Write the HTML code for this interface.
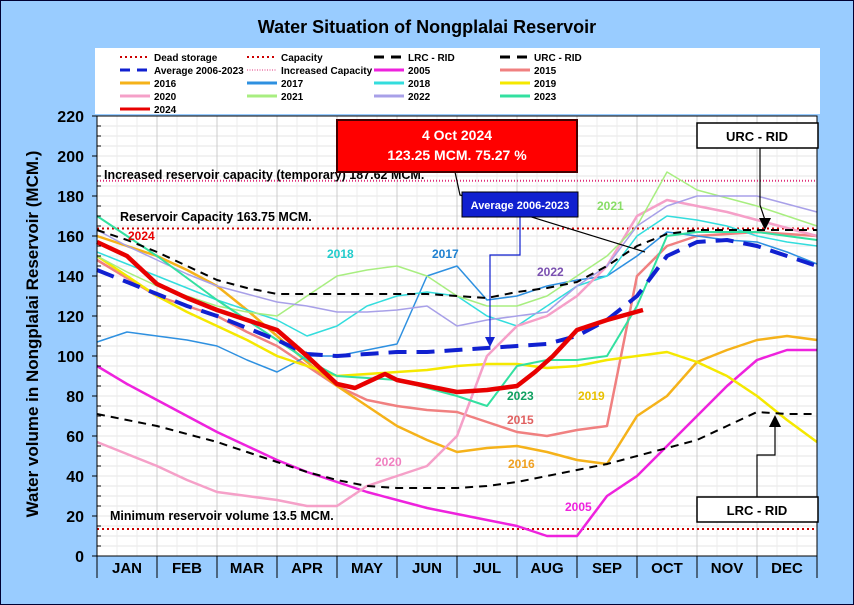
<!DOCTYPE html>
<html><head><meta charset="utf-8">
<style>
body{margin:0;background:#fff;}
svg{display:block;font-family:"Liberation Sans",sans-serif;}
</style></head><body>
<svg id="c" width="854" height="605" viewBox="0 0 854 605" xmlns="http://www.w3.org/2000/svg">
<rect x="0.5" y="0.5" width="853" height="604" fill="#99ccff" stroke="#000033"/>
<text x="427" y="33" text-anchor="middle" font-size="18" font-weight="bold">Water Situation of Nongplalai Reservoir</text>
<rect x="95" y="48" width="725" height="66" fill="#fff"/>
<rect x="97" y="116" width="720" height="440" fill="#fff"/>
<g id="grid"></g><g id="series"></g><g id="axes"></g><g id="legend"></g><g id="annot"></g>
</svg>
<script>
const NS="http://www.w3.org/2000/svg";
const months=["JAN","FEB","MAR","APR","MAY","JUN","JUL","AUG","SEP","OCT","NOV","DEC"];
const yTicks=[0,20,40,60,80,100,120,140,160,180,200,220];
// x = month position (0 = Jan 1, 12 = Dec 31), y = MCM
const t=[0,0.5,1,1.5,2,2.5,3,3.5,4,4.5,5,5.5,6,6.5,7,7.5,8,8.5,9,9.5,10,10.5,11,11.5,12];
const t2024=[0,0.5,1,1.5,2,2.5,3,3.5,4,4.3,4.8,5,5.5,6,6.5,7,7.3,7.6,8,8.5,9.1];
const v2024=[157,150,136,129,123,118,113,100,86,84,91,88,85,82,83,85,92,100,113,118,123];
const vAvg=[143,137,131,125,120,114,108,101,100,101,102,102,103,104,105,106,110,118,130,150,157,158,155,150,145];
const vLRC=[71,68,65,61,57,52,47,42,38,35,34,34,34,35,37,40,43,46,50,54,58,65,72,71,71];
const vURC=[163,158,152,145,138,134,131,131,131,131,131,131,130,129,132,134,137,145,155,161,163,163,163,163,163];
const v2005=[95,86,78,70,62,55,48,42,37,32,28,24,21,18,15,10,10,30,40,55,70,85,98,103,103];
const v2015=[148,139,130,125,120,112,105,95,85,78,75,73,72,67,62,60,63,65,140,155,160,161,162,161,160];
const v2016=[160,155,150,143,135,123,110,97,85,75,65,58,52,54,55,52,48,46,70,80,97,103,108,110,108];
const v2017=[107,112,110,108,105,98,92,100,100,103,106,140,145,128,130,135,138,140,150,162,160,158,157,152,146];
const v2018=[152,146,140,134,128,123,118,110,115,125,130,132,130,120,115,125,135,140,160,170,168,165,160,157,155];
const v2019=[150,140,130,122,115,108,100,95,90,91,92,93,95,96,96,94,95,98,100,102,97,90,80,68,57];
const v2020=[57,51,45,38,32,30,28,25,25,35,40,45,60,100,115,120,130,145,170,178,175,172,168,164,160];
const v2021=[150,142,135,130,125,122,120,130,140,143,145,140,130,125,125,130,140,150,165,192,183,179,175,170,165];
const v2022=[163,155,148,141,135,131,127,125,122,122,123,125,115,118,120,122,135,145,165,175,180,180,180,176,172];
const v2023=[170,160,150,139,128,118,108,98,90,89,88,84,80,75,95,98,98,100,125,160,162,162,162,160,158];
const x=m=>97+m*60;
const y=v=>556-v*2;
function el(tag,attrs,parent,name,inter){const e=document.createElementNS(NS,tag);for(const k in attrs)e.setAttribute(k,attrs[k]);


parent.appendChild(e);return e;}
const G=document.getElementById('grid'),S=document.getElementById('series'),A=document.getElementById('axes'),L=document.getElementById('legend'),N=document.getElementById('annot');
for(let v=5;v<220;v+=5)el('line',{x1:97,x2:817,y1:y(v),y2:y(v),stroke:'#e6e6e6','stroke-width':1},G,'grid-line-h');
for(let m=0;m<12;m+=1/3)el('line',{x1:x(m),x2:x(m),y1:116,y2:556,stroke:(Math.abs(m-Math.round(m))<0.01)?'#cccccc':'#ececec'},G,'grid-line-v');
function line(tt,vv,color,w,dash,name){const d=tt.map((m,i)=>(i?'L':'M')+x(m).toFixed(1)+','+y(vv[i]).toFixed(1)).join('');
const a={d:d,fill:'none',stroke:color,'stroke-width':w,'stroke-linejoin':'round'};if(dash)a['stroke-dasharray']=dash;el('path',a,S,name);}
function hl(v,color,name,dash){el('line',{x1:97,x2:817,y1:y(v),y2:y(v),stroke:color,'stroke-width':2,'stroke-dasharray':dash||'2,3'},S,name);}
hl(13.5,'#cc0000','dead-storage-line');hl(163.75,'#cc0000','capacity-line');hl(187.62,'#e0307a','increased-capacity-line','1,2');
line(t,v2005,'#ee22dd',2.5,null,'series-2005');
line(t,v2015,'#f08080',2.5,null,'series-2015');
line(t,v2016,'#f5b21a',2.5,null,'series-2016');
line(t,v2017,'#2e90e0',1.5,null,'series-2017');
line(t,v2018,'#33dddd',1.5,null,'series-2018');
line(t,v2019,'#f5e800',2.5,null,'series-2019');
line(t,v2020,'#f5a0c8',2.5,null,'series-2020');
line(t,v2021,'#a8ee80',1.5,null,'series-2021');
line(t,v2022,'#a8a0e8',1.5,null,'series-2022');
line(t,v2023,'#33e0a0',2,null,'series-2023');
line(t,vLRC,'#000',2,'8,6','series-lrc-rid');
line(t,vURC,'#000',2,'8,6','series-urc-rid');
line(t,vAvg,'#1020d0',4,'18,10','series-average');
line(t2024,v2024,'#e80000',4.5,null,'series-2024');
el('rect',{x:97,y:116,width:720,height:440,fill:'none',stroke:'#000','stroke-width':1},A,'plot-border');
yTicks.forEach(v=>{el('line',{x1:92,x2:97,y1:y(v),y2:y(v),stroke:'#000'},A,'y-tick');
const tx=el('text',{x:84,y:y(v)+6,'text-anchor':'end','font-size':16,'font-weight':'bold'},A,'y-tick-label');tx.textContent=v;});
for(let v=5;v<220;v+=5)if(v%20)el('line',{x1:97,x2:101,y1:y(v),y2:y(v),stroke:'#000'},A,'y-minor-tick');
months.forEach((mo,i)=>{el('line',{x1:x(i),x2:x(i),y1:556,y2:578,stroke:'#000'},A,'month-divider');
const tx=el('text',{x:x(i+0.5),y:573,'text-anchor':'middle','font-size':15,'font-weight':'bold','font-family':'Liberation Sans Narrow, Liberation Sans, sans-serif'},A,'month-label');tx.textContent=mo;});
el('line',{x1:x(12),x2:x(12),y1:556,y2:578,stroke:'#000'},A,'month-divider');
const yt=el('text',{x:0,y:0,transform:'translate(38,334) rotate(-90)','text-anchor':'middle','font-size':17,'font-weight':'bold'},A,'y-axis-title');yt.textContent='Water volume in Nongplalai Reservoir (MCM.)';
// legend
const leg=[["Dead storage",'#cc0000','dot'],["Capacity",'#cc0000','dot'],["LRC - RID",'#000','dash'],["URC - RID",'#000','dash'],
["Average 2006-2023",'#1020d0','dashb'],["Increased Capacity",'#e0307a','fdot'],["2005",'#ee22dd'],["2015",'#f08080'],
["2016",'#f5b21a'],["2017",'#2e90e0'],["2018",'#33dddd'],["2019",'#f5e800'],["2020",'#f5a0c8'],["2021",'#a8ee80'],["2022",'#a8a0e8'],["2023",'#33e0a0'],["2024",'#e80000']];
const colX=[120,247,374,500];
leg.forEach((e,i)=>{const cx=colX[i%4],cy=57+Math.floor(i/4)*13;
const a={x1:cx,x2:cx+30,y1:cy,y2:cy,stroke:e[1],'stroke-width':3};
if(e[2]==='dot'){a['stroke-dasharray']='2,3';a['stroke-width']=2;}if(e[2]==='fdot'){a['stroke-dasharray']='1,1.5';a['stroke-width']=1;}
if(e[2]==='dash'||e[2]==='dashb'){a['stroke-dasharray']='10,7';}
el('line',a,L,'legend-swatch');
const tx=el('text',{x:cx+34,y:cy+4,'font-size':10,'font-weight':'bold'},L,'legend-entry');tx.textContent=e[0];});
// annotations
function txt(s,xx,yy,col,size,name,anchor){const tx=el('text',{x:xx,y:yy,fill:col,'font-size':size,'font-weight':'bold','text-anchor':anchor||'start'},N,name);tx.textContent=s;}
txt('Increased reservoir capacity (temporary) 187.62 MCM.',104,179,'#000',12.5,'increased-capacity-label');
txt('Reservoir Capacity 163.75 MCM.',120,221,'#000',12.5,'capacity-label');
txt('Minimum reservoir volume 13.5 MCM.',110,520,'#000',12.5,'minimum-volume-label');
[['2024',128,240,'#e80000'],['2018',327,258,'#22cccc'],['2017',432,258,'#1e80d0'],['2021',597,210,'#88dd66'],['2022',537,276,'#7a50b0'],
['2023',507,400,'#10a060'],['2019',578,400,'#e8c000'],['2015',507,424,'#e06060'],['2016',508,468,'#f0a020'],['2020',375,466,'#f080c0'],['2005',565,511,'#ee22dd']]
.forEach(a=>txt(a[0],a[1],a[2],a[3],12,'series-label-'+a[0]));
el('polyline',{points:'455,172 460,195 645,252',fill:'none',stroke:'#000','stroke-width':1.2},N,'callout-line-2024');
el('rect',{x:337,y:120,width:240,height:52,fill:'#ff0000',stroke:'#400','stroke-width':2},N,'callout-2024-box');
txt('4 Oct 2024',457,140,'#fff',14,'callout-2024-date','middle');
txt('123.25 MCM. 75.27 %',457,160,'#fff',14,'callout-2024-value','middle');
el('polyline',{points:'520,217 520,255 490,255 490,340',fill:'none',stroke:'#1020d0','stroke-width':1.2},N,'callout-line-average');
el('path',{d:'M485,337 L495,337 L490,347Z',fill:'#1020d0'},N,'callout-arrow-average');
el('rect',{x:462,y:192,width:116,height:25,fill:'#1020d0',stroke:'#000'},N,'callout-average-box');
txt('Average 2006-2023',520,209,'#fff',11,'callout-average-text','middle');
el('polyline',{points:'760,148 760,205 765,220',fill:'none',stroke:'#000','stroke-width':1.2},N,'callout-line-urc');
el('path',{d:'M759,218 L771,218 L765,230Z',fill:'#000'},N,'callout-arrow-urc');
el('rect',{x:697,y:123,width:121,height:25,fill:'#fff',stroke:'#000','stroke-width':1.5},N,'callout-urc-box');
txt('URC - RID',757,141,'#000',13,'callout-urc-text','middle');
el('polyline',{points:'757,497 757,455 775,455 775,425',fill:'none',stroke:'#000','stroke-width':1.2},N,'callout-line-lrc');
el('path',{d:'M769,427 L781,427 L775,415Z',fill:'#000'},N,'callout-arrow-lrc');
el('rect',{x:697,y:497,width:121,height:25,fill:'#fff',stroke:'#000','stroke-width':1.5},N,'callout-lrc-box');
txt('LRC - RID',757,515,'#000',13,'callout-lrc-text','middle');
</script>
</body></html>
